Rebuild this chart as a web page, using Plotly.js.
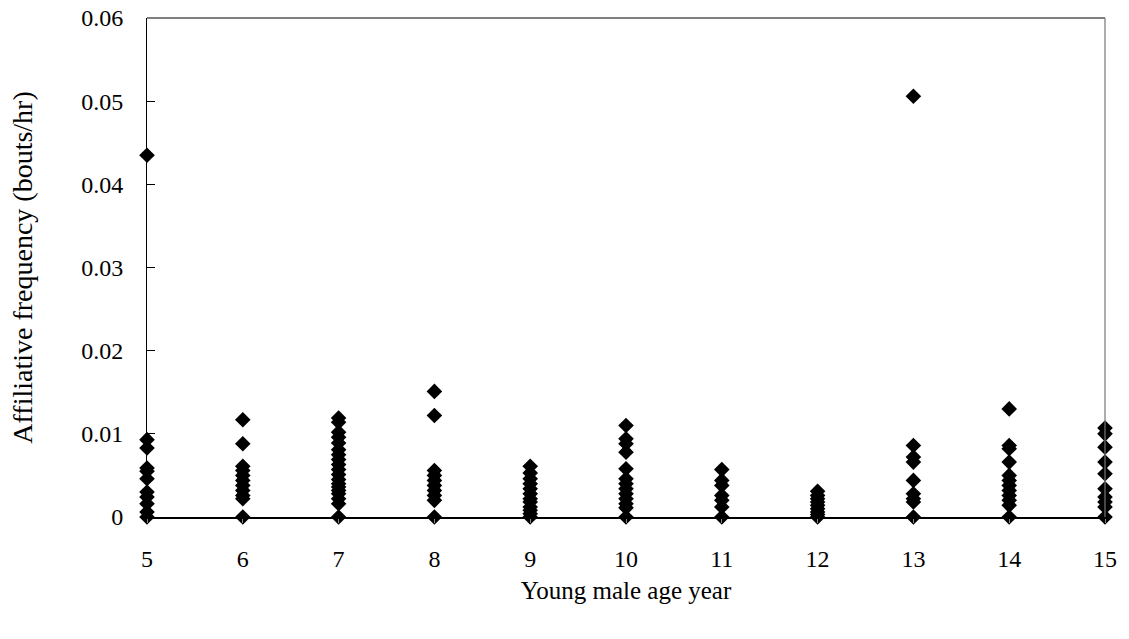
<!DOCTYPE html>
<html>
<head>
<meta charset="utf-8">
<script src="https://cdn.plot.ly/plotly-3.0.1.min.js"></script>
<style>
  html, body { margin: 0; padding: 0; background: #fff; }
  #chart { width: 1129px; height: 639px; }
</style>
</head>
<body>
<div id="chart"></div>
<script>
// Affiliative frequency (bouts/hr) observed for young males, grouped by age year
const ages = [5, 6, 7, 8, 9, 10, 11, 12, 13, 14, 15];

const freqAge5  = [0.0435, 0.0093, 0.0083, 0.0059, 0.0055, 0.0046, 0.0030, 0.0024, 0.0016, 0.0006, 0];
const freqAge6  = [0.0117, 0.0088, 0.0061, 0.0056, 0.0050, 0.0044, 0.0038, 0.0032, 0.0026, 0.0022, 0];
const freqAge7  = [0.0119, 0.0114, 0.0102, 0.0096, 0.0089, 0.0081, 0.0075, 0.0069, 0.0063, 0.0057, 0.0051, 0.0045, 0.0040, 0.0036, 0.0032, 0.0028, 0.0022, 0.0016, 0];
const freqAge8  = [0.0151, 0.0122, 0.0056, 0.0050, 0.0044, 0.0038, 0.0032, 0.0026, 0.0020, 0];
const freqAge9  = [0.0061, 0.0053, 0.0046, 0.0040, 0.0034, 0.0028, 0.0022, 0.0018, 0.0012, 0.0008, 0.0004, 0];
const freqAge10 = [0.0110, 0.0094, 0.0088, 0.0078, 0.0058, 0.0046, 0.0040, 0.0034, 0.0028, 0.0022, 0.0016, 0.0011, 0];
const freqAge11 = [0.0057, 0.0044, 0.0038, 0.0026, 0.0020, 0.0012, 0];
const freqAge12 = [0.0031, 0.0026, 0.0022, 0.0018, 0.0014, 0.0010, 0.0006, 0.0003, 0];
const freqAge13 = [0.0506, 0.0086, 0.0072, 0.0066, 0.0044, 0.0028, 0.0022, 0.0018, 0];
const freqAge14 = [0.0130, 0.0086, 0.0082, 0.0066, 0.0050, 0.0044, 0.0038, 0.0032, 0.0026, 0.0020, 0.0014, 0];
const freqAge15 = [0.0107, 0.0100, 0.0084, 0.0066, 0.0052, 0.0034, 0.0024, 0.0018, 0.0012, 0];

const yTickVals = [0, 0.01, 0.02, 0.03, 0.04, 0.05, 0.06];
const yTickText = ['0', '0.01', '0.02', '0.03', '0.04', '0.05', '0.06'];

const groups = [freqAge5, freqAge6, freqAge7, freqAge8, freqAge9, freqAge10,
                freqAge11, freqAge12, freqAge13, freqAge14, freqAge15];

const xs = [], ys = [];
groups.forEach((vals, i) => {
  vals.forEach(v => { xs.push(ages[i]); ys.push(v); });
});

const serif = 'Liberation Serif, Times New Roman, serif';

const trace = {
  x: xs,
  y: ys,
  type: 'scatter',
  mode: 'markers',
  cliponaxis: false,
  marker: { symbol: 'diamond', size: 12, color: '#000' },
  hoverinfo: 'x+y'
};

const layout = {
  width: 1129,
  height: 639,
  margin: { l: 147, r: 24, t: 18, b: 122 },
  paper_bgcolor: '#fff',
  plot_bgcolor: '#fff',
  showlegend: false,
  font: { family: serif, color: '#000', size: 24 },
  xaxis: {
    range: [5, 15],
    tickvals: ages,
    ticktext: ages.map(String),
    ticks: 'outside',
    ticklen: 4,
    tickcolor: '#888',
    tickwidth: 1,
    ticklabelstandoff: 16,
    showgrid: false,
    zeroline: false,
    showline: true,
    linecolor: '#000',
    linewidth: 1.5,
    mirror: false,
    tickfont: { family: serif, size: 24, color: '#000' },
    title: { text: 'Young male age year', font: { family: serif, size: 25, color: '#000' }, standoff: 10 }
  },
  yaxis: {
    range: [0, 0.06],
    tickvals: yTickVals,
    ticktext: yTickText,
    ticks: 'inside',
    ticklen: 8,
    tickcolor: '#000',
    tickwidth: 1,
    ticklabelstandoff: 18,
    showgrid: false,
    zeroline: false,
    showline: true,
    linecolor: '#000',
    linewidth: 1,
    tickfont: { family: serif, size: 24, color: '#000' },
    title: { text: 'Affiliative frequency (bouts/hr)', font: { family: serif, size: 28, color: '#000' }, standoff: 40 }
  },
  shapes: [
    { type: 'line', xref: 'paper', yref: 'paper', x0: 0, x1: 1, y0: 1, y1: 1, line: { color: '#000', width: 1.2 } },
    { type: 'line', xref: 'paper', yref: 'paper', x0: 1, x1: 1, y0: 0, y1: 1, line: { color: '#777', width: 1.2 } }
  ]
};

Plotly.newPlot('chart', [trace], layout, { displayModeBar: false, staticPlot: true });
</script>
</body>
</html>
